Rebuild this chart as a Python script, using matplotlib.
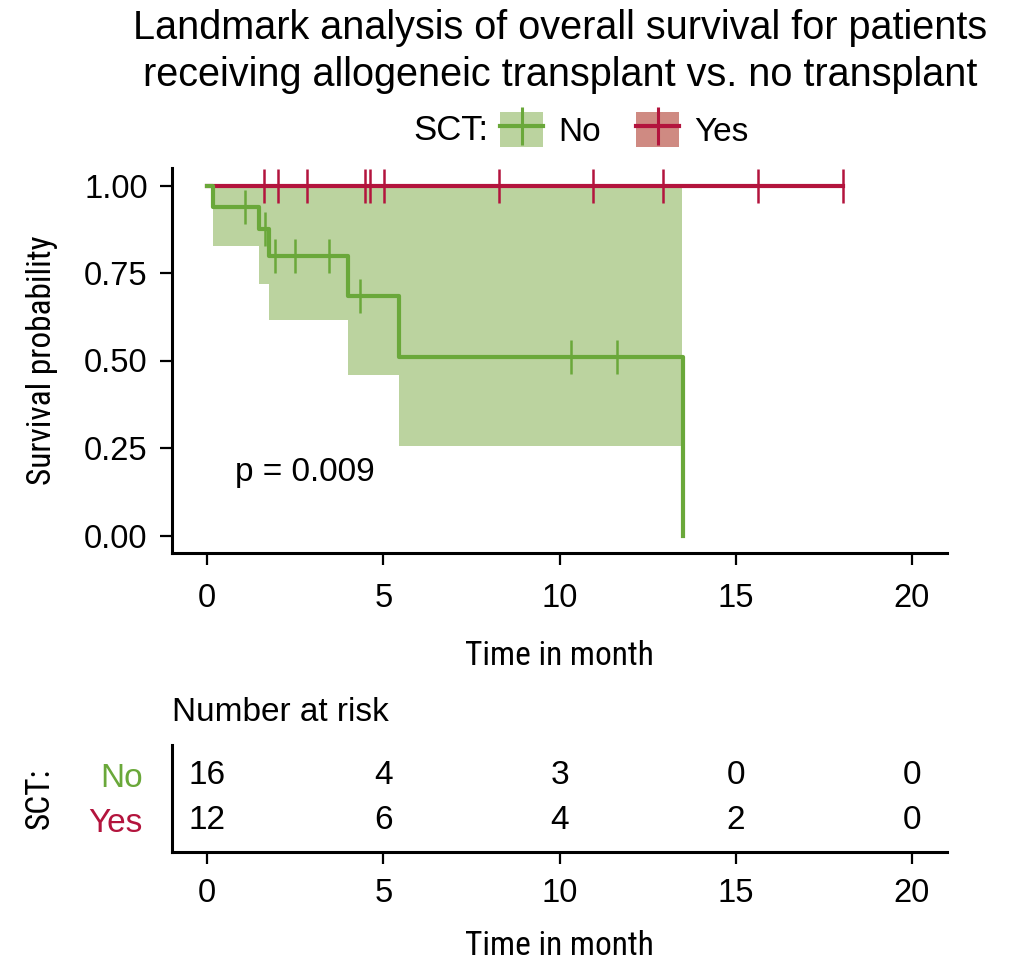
import numpy as np
import matplotlib
matplotlib.use("Agg")
import matplotlib.pyplot as plt
from matplotlib import font_manager as fm
from matplotlib.patches import Patch
from matplotlib.lines import Line2D
from matplotlib.legend_handler import HandlerTuple

# ---------------- data ----------------
groups = ["No", "Yes"]
# SCT = No : Kaplan-Meier steps
no_times = [0.0, 0.16, 1.48, 1.74, 4.01, 5.44, 13.51]
no_surv = [1.0, 0.9375, 0.875, 0.80, 0.683, 0.51, 0.0]
no_censor = [1.08, 1.63, 1.91, 2.48, 3.45, 4.35, 10.34, 11.63]
no_ci_times = [0.16, 1.48, 1.74, 4.01, 5.44, 13.48]
no_ci_lower = [0.827, 0.718, 0.616, 0.46, 0.257, 0.257]
no_ci_upper = [1.0, 1.0, 1.0, 1.0, 1.0, 1.0]
# SCT = Yes
yes_times = [0.0, 18.04]
yes_surv = [1.0, 1.0]
yes_censor = [1.60, 2.00, 2.83, 4.49, 4.61, 5.01, 8.28, 10.94, 12.95, 15.64, 18.04]

risk_times = [0, 5, 10, 15, 20]
risk_no = [16, 4, 3, 0, 0]
risk_yes = [12, 6, 4, 2, 0]

x_ticks = [0, 5, 10, 15, 20]
y_ticks = [0.0, 0.25, 0.5, 0.75, 1.0]
y_ticklabels = ["0.00", "0.25", "0.50", "0.75", "1.00"]
p_text = "p = 0.009"

col_no = "#6aa83a"
col_yes = "#b3143d"
col_no_band = "#bbd39f"
col_yes_band = "#cf8a82"

# ---------------- fonts ----------------
plt.rcParams["font.family"] = ["Liberation Sans", "DejaVu Sans"]
names = {f.name for f in fm.fontManager.ttflist}
if "Liberation Sans Narrow" in names:
    cond = dict(family="Liberation Sans Narrow")
elif "Roboto Condensed" in names:
    cond = dict(family="Roboto Condensed")
else:
    cond = dict(family="DejaVu Sans", fontstretch="condensed")

W, H = 1015, 967
fig = plt.figure(figsize=(W / 100, H / 100), dpi=100)


def fx(px):
    return px / W


def fy(py):
    return 1 - py / H


TICK_FS = 23.5
TXT_FS = 24
LAB_FS = 24
# main axes
ax = fig.add_axes([fx(172), fy(553), fx(947) - fx(172), fy(168) - fy(553)])
ax.set_xlim(-1, 21)
ax.set_ylim(-0.05, 1.05)

# CI ribbon
ax.fill_between(no_ci_times, no_ci_lower, no_ci_upper, step="post",
                color=col_no_band, linewidth=0, zorder=1)
# Yes curve
ax.step(yes_times, yes_surv, where="post", color=col_yes, lw=3, zorder=3)
ax.plot(yes_censor, np.interp(yes_censor, yes_times, yes_surv), ls="none",
        marker="|", ms=24.5, mew=1.8, color=col_yes, zorder=3)
# No curve
ax.step(no_times, no_surv, where="post", color=col_no, lw=3, zorder=4)
idx = np.searchsorted(no_times, no_censor, side="right") - 1
ax.plot(no_censor, np.array(no_surv)[idx], ls="none", marker="|", ms=24.5,
        mew=1.8, color=col_no, zorder=4)

ax.text(0.8, 0.18, p_text, fontsize=TXT_FS, va="center", ha="left")

for s in ["top", "right"]:
    ax.spines[s].set_visible(False)
for s in ["left", "bottom"]:
    ax.spines[s].set_linewidth(2.2)
ax.set_xticks(x_ticks)
ax.set_yticks(y_ticks)
ax.set_yticklabels(y_ticklabels)
ax.tick_params(axis="both", labelsize=TICK_FS, width=1.6, length=8.5, direction="out")
ax.tick_params(axis="x", pad=13)
ax.tick_params(axis="y", pad=9)
ax.set_xlabel("Time in month", fontsize=LAB_FS, labelpad=19, **cond)
ax.set_ylabel("Survival probability", fontsize=LAB_FS, labelpad=19, **cond)

# title
fig.text(fx(560), fy(28), "Landmark analysis of overall survival for patients",
         ha="center", va="center", fontsize=28.5)
fig.text(fx(560), fy(75), "receiving allogeneic transplant vs. no transplant",
         ha="center", va="center", fontsize=28.5)

# legend
handles = [
    (Patch(facecolor=col_no_band, edgecolor="none"),
     Line2D([], [], color=col_no, lw=3, marker="|", ms=28, mew=2.2)),
    (Patch(facecolor=col_yes_band, edgecolor="none"),
     Line2D([], [], color=col_yes, lw=3, marker="|", ms=28, mew=2.2)),
]
fig.text(fx(413), fy(130), "SCT:", ha="left", va="center", fontsize=25)
fig.legend(handles, groups, handler_map={tuple: HandlerTuple(ndivide=1)},
           loc="center left", bbox_to_anchor=(fx(500), fy(130)), ncol=2,
           frameon=False, fontsize=TXT_FS, handlelength=1.3, handleheight=1.2,
           handletextpad=0.45, columnspacing=1.05, borderpad=0, borderaxespad=0)

# risk table
rax = fig.add_axes([fx(172), fy(852), fx(947) - fx(172), fy(745) - fy(852)])
rax.set_xlim(-1, 21)
rax.set_ylim(0.29, 2.67)
for t, n in zip(risk_times, risk_no):
    rax.text(t, 2, str(n), ha="center", va="center", fontsize=TXT_FS)
for t, n in zip(risk_times, risk_yes):
    rax.text(t, 1, str(n), ha="center", va="center", fontsize=TXT_FS)
for s in ["top", "right"]:
    rax.spines[s].set_visible(False)
for s in ["left", "bottom"]:
    rax.spines[s].set_linewidth(2.2)
rax.set_xticks(x_ticks)
rax.set_yticks([2, 1])
rax.set_yticklabels(groups)
for lab, c in zip(rax.get_yticklabels(), [col_no, col_yes]):
    lab.set_color(c)
rax.tick_params(axis="both", labelsize=TICK_FS, width=1.6, length=8.5, direction="out")
rax.tick_params(axis="y", length=0, pad=21, labelsize=TXT_FS)
rax.tick_params(axis="x", pad=10)
rax.set_xlabel("Time in month", fontsize=LAB_FS, labelpad=15, **cond)
rax.set_ylabel("SCT:", fontsize=LAB_FS, labelpad=24, **cond)
rax.set_title("Number at risk", loc="left", fontsize=TXT_FS, pad=17)

fig.savefig("out.png", dpi=100)
